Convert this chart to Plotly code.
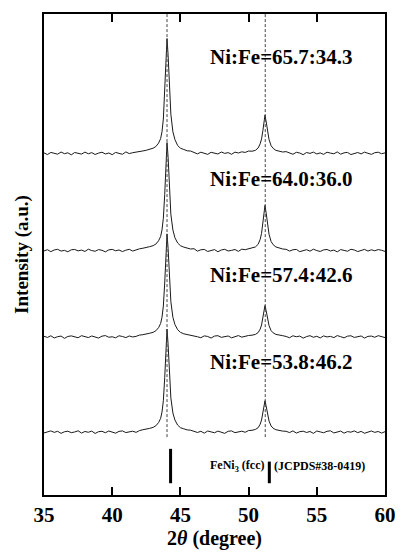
import plotly.graph_objects as go

# 2-theta grid (degrees)
two_theta = [35, 35.25, 35.5, 35.75, 36, 36.25, 36.5, 36.75, 37, 37.25, 37.5, 37.75, 38, 38.25, 38.5, 38.75,
             39, 39.25, 39.5, 39.75, 40, 40.25, 40.5, 40.75, 41, 41.25, 41.5, 41.75, 42, 42.25, 42.5, 42.75,
             43, 43.2, 43.4, 43.55, 43.65, 43.75, 43.85, 43.95, 44.02, 44.1, 44.2, 44.3, 44.45, 44.6, 44.8, 45.0,
             45.25, 45.5, 45.75, 46, 46.25, 46.5, 46.75, 47, 47.25, 47.5, 47.75, 48, 48.25, 48.5, 48.75,
             49, 49.25, 49.5, 49.75, 50, 50.25,
             50.5, 50.7, 50.85, 50.95, 51.05, 51.13, 51.2, 51.28, 51.38, 51.5, 51.65, 51.8, 52.0, 52.25,
             52.5, 52.75, 53, 53.25, 53.5, 53.75, 54, 54.25, 54.5, 54.75, 55, 55.25, 55.5, 55.75, 56, 56.25,
             56.5, 56.75, 57, 57.25, 57.5, 57.75, 58, 58.25, 58.5, 58.75, 59, 59.25, 59.5, 59.75, 60]

labels = ["Ni:Fe=65.7:34.3", "Ni:Fe=64.0:36.0", "Ni:Fe=57.4:42.6", "Ni:Fe=53.8:46.2"]

int_657 = [0.5, -1.2, 1.0, 0.2, -0.8, 1.4, -0.3, 0.6, -1.5, 0.9, 0.1, -0.7, 1.3, -0.4, 0.8, -1.1,
           0.3, 1.2, -0.6, 0.4, -1.3, 1.0, 0.0, -0.9, 1.5, -0.2, 0.7, 1.1, 2.0, 2.5, 3.2, 4.3,
           5.3, 7, 10.5, 15, 22, 35, 61, 99, 117, 100, 65, 40, 22, 14, 8, 5.3,
           4.0, 2.6, 2.4, 0.9, -0.5, 1.2, 0.3, -1.0, 1.1, 0.2, -0.6, 1.4, 0.0, 0.8, -0.9,
           1.3, 0.4, 1.6, 1.0, 2.4, 2.2,
           3.1, 5.5, 9.8, 14.8, 23.4, 32, 39, 33, 23.4, 14, 7.8, 5.1, 3.1, 2,
           1.4, 1.8, 0.2, -0.9, 1.1, 0.4, -1.3, 0.9, 0.0, 1.3, -0.6, 0.5, -1.0, 1.2, 0.3, -0.4,
           1.5, -0.8, 0.6, 1.0, -1.2, 0.2, 0.9, -0.5, 1.3, 0.1, -1.0, 0.7, 1.2, -0.3, 0.5]
int_640 = [-0.4, 0.9, -1.1, 0.6, 1.3, -0.5, 0.2, -1.2, 0.8, 1.1, -0.3, 0.5, -0.9, 1.4, 0.0, -0.7,
           1.0, 0.3, -1.3, 0.7, 1.2, -0.2, 0.6, -1.0, 0.4, 1.3, -0.5, 0.9, 1.8, 2.4, 2.9, 4.0,
           5, 6.6, 10, 14.3, 21, 33, 57, 94, 110, 95, 62, 37, 21, 13, 7.7, 5,
           3.5, 2.7, 1.6, 1.9, -0.6, 0.8, 1.2, -0.9, 0.3, 1.0, -1.2, 0.6, 1.3, -0.4, 0.2,
           1.1, -0.8, 1.4, 0.9, 2.0, 2.5,
           3.7, 6.4, 11.5, 17.5, 27.6, 37.7, 46, 39, 27.6, 16.6, 9.2, 6, 3.7, 2.3,
           1.6, 1.3, -0.5, 0.8, 1.2, -1.1, 0.3, 0.9, -0.6, 1.4, 0.0, -0.9, 0.7, 1.1, -0.4, 0.5,
           -1.3, 1.0, 0.2, -0.7, 1.3, 0.6, -1.0, 0.4, 1.2, -0.5, 0.8, -0.2, 1.0, 0.3, -0.8]
int_574 = [0.7, -0.5, 1.2, -1.0, 0.3, 0.9, -1.4, 0.5, 1.1, -0.2, -0.8, 1.3, 0.4, -0.6, 1.0, 0.1,
           -1.1, 0.8, 1.4, -0.3, 0.2, -0.9, 1.2, 0.5, -0.7, 1.0, 0.0, 0.6, 1.9, 2.3, 2.8, 3.8,
           4.7, 6.3, 9.5, 13.7, 20, 31.5, 55, 89, 105, 90, 59, 36, 20, 12.6, 7.4, 4.7,
           3.2, 2.6, 1.5, 1.4, 0.2, -0.8, 1.1, 0.5, -1.1, 0.9, 1.3, -0.4, 0.3, 1.0, -0.9,
           0.6, 1.4, -0.2, 0.8, 1.5, 1.8,
           2.6, 4.5, 8, 12.2, 19.2, 26.2, 32, 27.2, 19.2, 11.5, 6.4, 4.2, 2.6, 1.6,
           1.3, 0.5, -0.8, 1.2, 0.2, 0.9, -1.2, 0.4, 1.3, -0.3, 0.7, -1.0, 1.1, 0.0, 0.6, -0.7,
           1.4, 0.3, -0.9, 0.8, 1.2, -0.5, 0.1, 1.0, -1.1, 0.6, 0.9, -0.3, 1.3, 0.2, -0.6]
int_538 = [-0.8, 0.6, 1.3, -0.2, 0.9, -1.2, 0.4, 1.0, -0.5, 0.2, 1.4, -0.9, 0.7, -0.1, 1.1, -1.3,
           0.5, 0.9, -0.6, 1.2, 0.0, -1.0, 0.8, 1.3, -0.4, 0.3, 1.0, -0.2, 1.6, 2.5, 3.0, 3.9,
           4.9, 6.5, 9.8, 14, 20.5, 32, 55.5, 89.5, 105, 89, 58, 35, 19.5, 12.3, 7.2, 4.6,
           3.4, 2.3, 2.0, 1.2, -0.3, 0.9, -1.0, 1.2, 0.4, -0.6, 1.1, 0.2, -1.2, 0.9, 1.3,
           -0.5, 0.6, 1.0, -0.1, 1.7, 1.9,
           2.8, 4.6, 8.2, 12.4, 19.4, 26.5, 32, 27, 19, 11.3, 6.3, 4, 2.5, 1.5,
           1.1, 0.9, -0.4, 1.3, -0.9, 0.5, 1.0, -0.3, 0.7, -1.2, 1.2, 0.3, -0.6, 0.9, 1.4, -0.8,
           0.2, 1.1, -1.0, 0.6, 0.0, 1.3, -0.5, 0.8, -1.1, 0.4, 1.2, -0.2, 0.7, -0.9, 0.5]
series = [int_657, int_640, int_574, int_538]
offsets = [348, 249, 161, 64]
label_y = [446, 322, 224, 135]

# reference lines and JCPDS pattern
peak_lines = [44.02, 51.22]
ref_pos = [44.28, 51.52]
ref_int = [100, 63]
ref_base = 12
ref_scale = 0.35

FONT = "Liberation Serif, Times New Roman, serif"

fig = go.Figure()
for vals, off in zip(series, offsets):
    fig.add_trace(go.Scatter(x=two_theta, y=[v + off for v in vals], mode="lines",
                             line=dict(color="#1a1a1a", width=1), showlegend=False,
                             hoverinfo="skip"))

# JCPDS bars
bx, by = [], []
for p, h in zip(ref_pos, ref_int):
    bx += [p, p, None]
    by += [ref_base, ref_base + h * ref_scale, None]
fig.add_trace(go.Scatter(x=bx, y=by, mode="lines", line=dict(color="black", width=3),
                         showlegend=False, hoverinfo="skip"))

for xl in peak_lines:
    fig.add_shape(type="line", x0=xl, x1=xl, y0=59, y1=490, xref="x", yref="y",
                  line=dict(color="#444", width=1, dash="3px,2px"))

for t, yy in zip(labels, label_y):
    fig.add_annotation(x=47.0, y=yy, text=t, showarrow=False,
                       xanchor="left", yanchor="middle",
                       font=dict(family=FONT, size=21, color="black", weight="bold"))

fig.add_annotation(x=51.31, y=30, text="FeNi<sub>3</sub> (fcc)", showarrow=False,
                   xanchor="right", yanchor="middle",
                   font=dict(family=FONT, size=12, color="black", weight="bold"))
fig.add_annotation(x=51.74, y=30, text="(JCPDS#38-0419)", showarrow=False,
                   xanchor="left", yanchor="middle",
                   font=dict(family=FONT, size=12, color="black", weight="bold"))

fig.update_layout(
    width=408, height=555,
    margin=dict(l=44, r=13, t=12, b=53),
    paper_bgcolor="white", plot_bgcolor="white",
    font=dict(family=FONT, color="black"),
    xaxis=dict(range=[35, 60], tickmode="array", tickvals=[35, 40, 45, 50, 55, 60],
               ticks="inside", ticklen=8, tickwidth=1.5, tickcolor="black",
               showline=True, linecolor="black", linewidth=2, mirror="ticks",
               showgrid=False, zeroline=False,
               tickfont=dict(family=FONT, size=21, color="black", weight="bold"),
               title=dict(text="2<i>θ</i> (degree)", standoff=2,
                          font=dict(family=FONT, size=20, color="black", weight="bold"))),
    yaxis=dict(range=[0, 490], showticklabels=False, ticks="",
               showline=True, linecolor="black", linewidth=2, mirror=True,
               showgrid=False, zeroline=False,
               title=dict(text="Intensity (a.u.)", standoff=8,
                          font=dict(family=FONT, size=19, color="black", weight="bold"))),
)

fig.write_html("out.html")
